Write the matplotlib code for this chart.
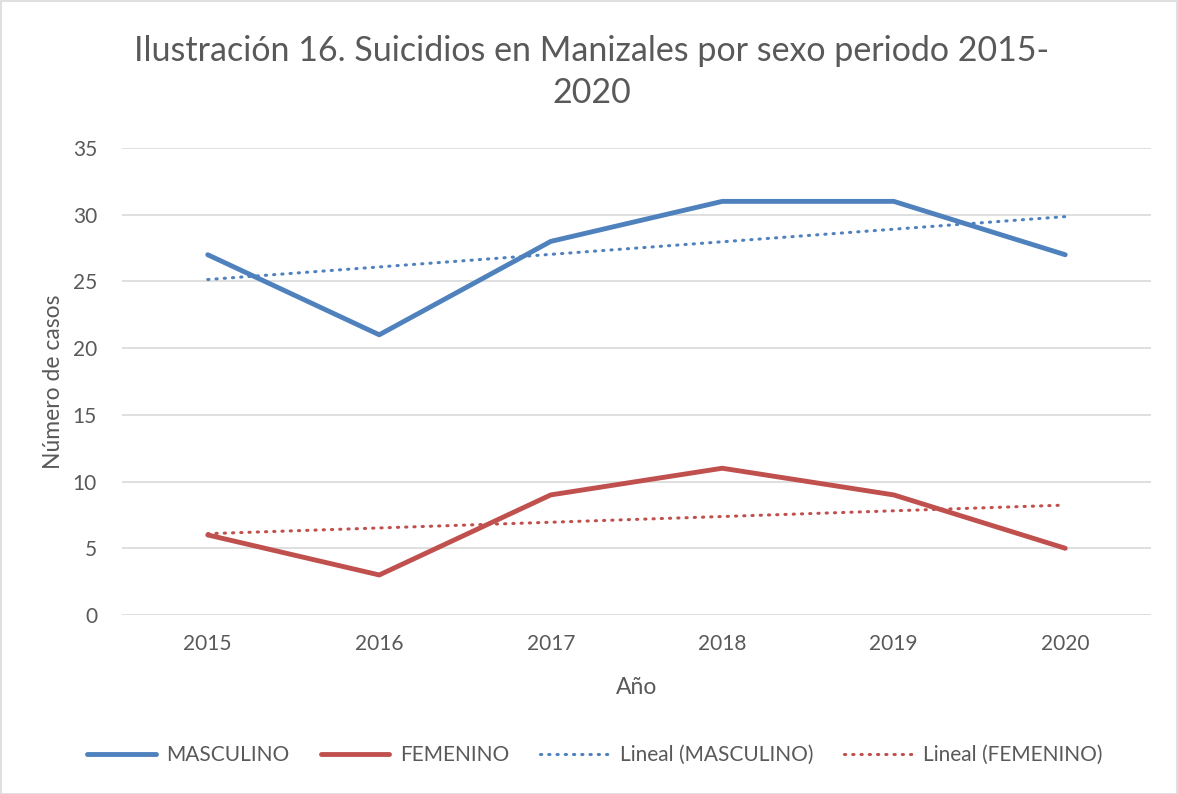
import matplotlib
matplotlib.use("Agg")
import matplotlib.pyplot as plt
import numpy as np
from matplotlib.patches import Rectangle

plt.rcParams['font.family'] = ['Lato', 'DejaVu Sans']

years = ['2015', '2016', '2017', '2018', '2019', '2020']
masculino = [27, 21, 28, 31, 31, 27]
femenino = [6, 3, 9, 11, 9, 5]

blue = '#4F81BD'
red = '#C0504D'
text_col = '#595959'
grid_col = '#D9D9D9'

W, H = 1178, 794
fig = plt.figure(figsize=(W / 100, H / 100), dpi=100)

# outer chart border
fig.patches.append(Rectangle((0.5 / W, 0.5 / H), 1 - 1.5 / W, 1 - 1.5 / H,
                             transform=fig.transFigure, fill=False,
                             edgecolor=grid_col, linewidth=1.2))

left, right, top, bottom = 122, 1151, 148, 615
ax = fig.add_axes([left / W, 1 - bottom / H, (right - left) / W, (bottom - top) / H])

x = np.arange(1, len(years) + 1)

# linear trend lines (Excel "Lineal")
pm = np.polyfit(x, masculino, 1)
pf = np.polyfit(x, femenino, 1)

l1, = ax.plot(x, masculino, color=blue, lw=3.5, solid_joinstyle='round',
              solid_capstyle='round', label='MASCULINO', zorder=3)
l2, = ax.plot(x, femenino, color=red, lw=3.5, solid_joinstyle='round',
              solid_capstyle='round', label='FEMENINO', zorder=3)
l3, = ax.plot(x, np.polyval(pm, x), color=blue, lw=2.2, linestyle=(0, (0.4, 2.3)),
              dash_capstyle='round', label='Lineal (MASCULINO)', zorder=2)
l4, = ax.plot(x, np.polyval(pf, x), color=red, lw=2.2, linestyle=(0, (0.4, 2.3)),
              dash_capstyle='round', label='Lineal (FEMENINO)', zorder=2)

ax.set_xlim(0.5, len(years) + 0.5)
ax.set_ylim(0, 35)
ax.set_yticks(range(0, 36, 5))
ax.set_xticks(x)
ax.set_xticklabels(years)
ax.grid(axis='y', color=grid_col, lw=1.2)
ax.set_axisbelow(True)
for s in ax.spines.values():
    s.set_visible(False)
ax.tick_params(length=0, labelsize=15, colors=text_col, pad=14)
ax.tick_params(axis='y', pad=18)

ax.set_xlabel('Año', fontsize=16.5, color=text_col, labelpad=16)
ax.set_ylabel('Número de casos', fontsize=16.5, color=text_col, labelpad=6)

fig.text(592 / W, 1 - 72 / H, 'Ilustración 16. Suicidios en Manizales por sexo periodo 2015-\n2020',
         ha='center', va='center', fontsize=24.5, color=text_col, linespacing=1.35)

fig.legend(handles=[l1, l2, l3, l4], loc='center', bbox_to_anchor=(595 / W, 1 - 755 / H),
           ncol=4, frameon=False, fontsize=15, labelcolor=text_col,
           handlelength=3.3, handletextpad=0.5, columnspacing=1.5)

fig.savefig('out.png', dpi=100)
